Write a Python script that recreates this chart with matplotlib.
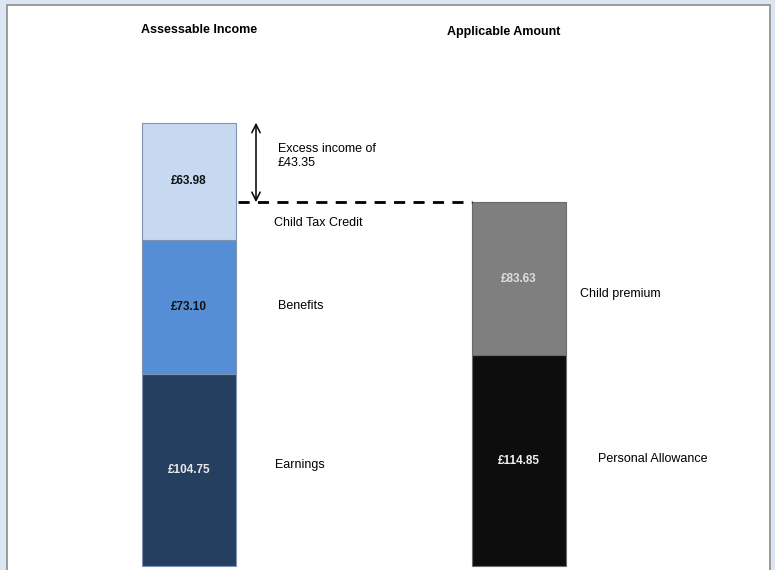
import matplotlib
matplotlib.use("Agg")
import matplotlib.pyplot as plt
from matplotlib.patches import Rectangle

# Stacked amounts (GBP per week)
income_labels = ["Earnings", "Benefits", "Child Tax Credit"]
income_values = [104.75, 73.10, 63.98]
income_colors = ["#243f60", "#558ed5", "#c6d9f1"]
income_text = ["#e8e8e8", "#111111", "#111111"]

amount_labels = ["Personal Allowance", "Child premium"]
amount_values = [114.85, 83.63]
amount_colors = ["#0d0d0d", "#7f7f7f"]
amount_text = ["#f0f0f0", "#dedede"]

column_titles = ["Assessable Income", "Applicable Amount"]

plt.rcParams["font.family"] = ["Liberation Sans", "DejaVu Sans"]

fig = plt.figure(figsize=(7.75, 5.7), dpi=100, facecolor="#dce6f2")
# white sheet with grey border
fig.patches.append(Rectangle((7 / 775, -0.02), 763 / 775, 1 - 5 / 570 + 0.02,
                             transform=fig.transFigure, facecolor="white",
                             edgecolor="#8c8c8c", linewidth=1.2, zorder=-10))

ax = fig.add_axes([0, 0, 1, 1])
ax.set_axis_off()
ax.patch.set_alpha(0)
scale = 0.5455  # GBP per pixel
ax.set_xlim(0, 775)
ax.set_ylim(-4 * scale, 566 * scale)


def row(p):
    """Vertical position for annotations, given in pixels from the top."""
    return (566 - p) * scale


left_x, right_x, bar_w = 189, 518.5, 94

# Assessable income stack
bottom = 0
for val, col, tc in zip(income_values, income_colors, income_text):
    ax.bar(left_x, val, bottom=bottom, width=bar_w, color=col,
           edgecolor="#7f93b0", linewidth=0.8)
    ax.text(left_x, bottom + val / 2, f"£{val:.2f}", ha="center", va="center",
            fontsize=8.5, fontweight="bold", color=tc)
    bottom += val
income_total = bottom

# Applicable amount stack
bottom = 0
for val, col, tc in zip(amount_values, amount_colors, amount_text):
    ax.bar(right_x, val, bottom=bottom, width=bar_w, color=col,
           edgecolor="#6b6b6b", linewidth=0.8)
    ax.text(right_x, bottom + val / 2, f"£{val:.2f}", ha="center", va="center",
            fontsize=8.5, fontweight="bold", color=tc)
    bottom += val
amount_total = bottom

# dashed level of applicable amount and excess arrow
ax.plot([left_x + bar_w / 2 + 2, right_x - bar_w / 2], [amount_total] * 2,
        color="black", linestyle=(0, (4, 3)), linewidth=2)
ax.annotate("", xy=(256, income_total), xytext=(256, amount_total),
            arrowprops=dict(arrowstyle="<->,head_length=0.6,head_width=0.3",
                            color="black", lw=1.1, shrinkA=0, shrinkB=0))
excess = income_total - amount_total
ax.text(278, row(156), f"Excess income of\n£{excess:.2f}",
        ha="left", va="center", fontsize=9, linespacing=1.25)

# segment names
ax.text(274, row(223), income_labels[2], ha="left", va="center", fontsize=9)
ax.text(278, row(306), income_labels[1], ha="left", va="center", fontsize=9)
ax.text(275, row(465), income_labels[0], ha="left", va="center", fontsize=9)
ax.text(580, row(294), amount_labels[1], ha="left", va="center", fontsize=9)
ax.text(598, row(459), amount_labels[0], ha="left", va="center", fontsize=9)

# column headings
ax.text(199, row(30), column_titles[0], ha="center", va="center",
        fontsize=9, fontweight="bold")
ax.text(504, row(32), column_titles[1], ha="center", va="center",
        fontsize=9, fontweight="bold")

fig.savefig("out.png", dpi=100, facecolor=fig.get_facecolor())
